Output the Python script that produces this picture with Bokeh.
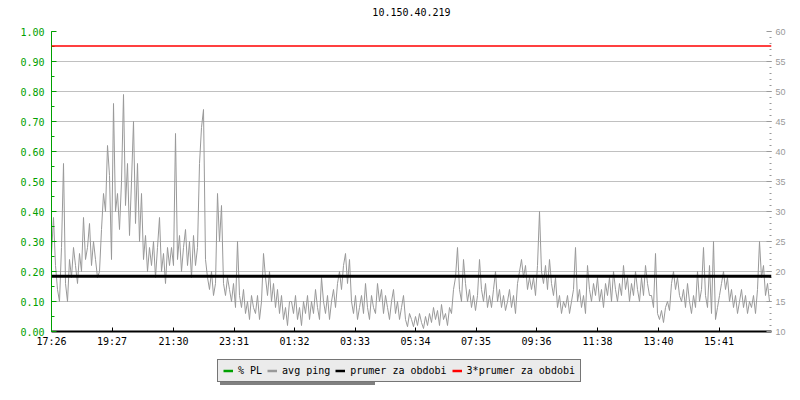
from bokeh.plotting import figure
from bokeh.layouts import column
from bokeh.models import (Range1d, LinearAxis, SingleIntervalTicker, FixedTicker,
                          NumeralTickFormatter, Span, Legend, LegendItem, Title)
from bokeh.embed import file_html
from bokeh.resources import INLINE

# ---------------- data ----------------
title_text = "10.150.40.219"
tick_minutes = [0, 121, 244, 365, 486, 607, 728, 849, 970, 1092, 1214, 1335]
tick_labels = ["17:26", "19:27", "21:30", "23:31", "01:32", "03:33",
               "05:34", "07:35", "09:36", "11:38", "13:40", "15:41"]
sample_step_min = 4          # minutes between samples
window_minutes = 1440        # 24 h shown

avg_ping = [
    23, 29, 21, 17, 15, 24, 38, 18, 15, 22, 19, 24, 21, 18, 23, 20, 29, 22, 24, 28,
    21, 25, 22, 19, 20, 27, 33, 30, 41, 36, 22, 48, 30, 33, 27, 35, 49.5, 31, 38, 26,
    35, 45, 28, 38, 25, 33, 22, 26, 20, 24, 21, 25, 19, 24, 29, 20, 23, 18, 24, 21,
    24, 21, 43, 22, 26, 20, 24, 27, 21, 25, 19, 26, 21, 24, 38, 44, 47, 22, 19, 17,
    20, 16, 18, 33, 25, 31, 18, 16, 19, 17, 15, 18, 14, 25, 16, 14, 17, 13, 15, 12,
    16, 14, 13, 16, 12, 15, 23, 19, 16, 20, 15, 18, 14, 17, 13, 16, 12, 14, 11, 15,
    15, 13, 16, 12, 14, 11, 15, 13, 16, 12, 15, 13, 17, 14, 12, 19, 15, 13, 16, 12,
    15, 17, 14, 18, 20, 17, 21, 23, 18, 22, 15, 13, 16, 12, 14, 16, 13, 18, 14, 12,
    16, 14, 13, 18, 15, 17, 13, 16, 14, 12, 15, 17, 13, 15, 12, 14, 16, 12, 10.8, 13,
    12, 10.8, 12.5, 11, 13, 11.5, 10.5, 12.5, 11, 13, 11.5, 14, 12, 13.5, 11, 14.5, 12, 13, 11, 14,
    13, 17, 19, 24, 17, 15, 22, 18, 15, 17, 14, 16, 13.5, 16, 22, 17, 15, 18, 14, 16,
    14, 17, 20, 15, 17, 14, 16, 13.5, 15, 17, 14, 16, 13, 18, 20, 22, 19, 21, 17, 19,
    17, 19, 16, 21, 30, 20, 18, 21, 17, 22, 18, 16, 19, 14, 16, 13, 15, 14, 16, 13,
    15, 17, 24, 15, 17, 14, 16, 13, 21, 17, 15, 18, 16, 19, 15, 17, 14, 18, 16, 19,
    15, 20, 17, 15, 18, 16, 21, 17, 19, 15, 18, 16, 20, 17, 15, 19, 16, 21, 18, 16,
    16, 14, 23, 13, 12, 13.5, 11.5, 14, 15, 13.5, 18, 20, 17, 19, 16, 15, 17, 14, 18, 15,
    13, 16, 14, 20, 15, 17, 24, 16, 14, 21, 13, 25, 12, 14, 16, 18, 20, 17, 19, 15,
    17, 14, 16, 13, 15, 17, 14, 16, 13, 15, 14, 16, 13, 17, 25, 19, 21, 16, 18, 15,
]
prumer = 19.2                # average ping over the period (ms)
pl_range = (0.0, 1.0)        # % PL axis
ping_range = (10, 60)        # ms axis

series_labels = ["% PL", "avg ping", "prumer za obdobi", "3*prumer za obdobi"]
series_colors = ["#00a000", "#999999", "#000000", "#ff0000"]

times = [i * sample_step_min for i in range(len(avg_ping))]

GREEN = "#00a000"
MONO = "DejaVu Sans Mono"

p = figure(width=800, height=356, output_backend="svg", toolbar_location=None,
           x_range=Range1d(0, window_minutes), y_range=Range1d(*pl_range),
           min_border_left=51, min_border_right=29, min_border_top=31,
           min_border_bottom=25)
p.extra_y_ranges = {"ping": Range1d(*ping_range)}
p.outline_line_color = None
p.background_fill_color = "white"
p.border_fill_color = "white"

# spacer title (closest to frame) pushes the real title upward
p.add_layout(Title(text=" ", text_font=MONO, text_font_size="10px", standoff=0), "above")

# title
p.title.text = title_text
p.title.align = "center"
p.title.text_font = MONO
p.title.text_font_size = "10px"
p.title.text_font_style = "normal"
p.title.text_color = "black"
p.title.standoff = 6

# left axis
ya = p.yaxis[0]
yt = SingleIntervalTicker(interval=0.1, num_minor_ticks=2)
ya.ticker = yt
ya.formatter = NumeralTickFormatter(format="0.00")
ya.axis_line_color = GREEN
ya.major_tick_line_color = GREEN
ya.minor_tick_line_color = GREEN
ya.major_tick_in = 5
ya.major_tick_out = 0
ya.minor_tick_in = 3
ya.minor_tick_out = 0
ya.major_label_text_color = GREEN
ya.major_label_text_font = MONO
ya.major_label_text_font_size = "10px"
ya.major_label_standoff = 7

p.ygrid[0].ticker = yt
p.ygrid[0].grid_line_color = "#c0c0c0"
p.xgrid[0].grid_line_color = None

# bottom axis
xa = p.xaxis[0]
xa.ticker = FixedTicker(ticks=tick_minutes)
xa.major_label_overrides = {m: l for m, l in zip(tick_minutes, tick_labels)}
xa.axis_line_color = "black"
xa.axis_line_width = 2
xa.major_tick_line_color = "black"
xa.major_tick_in = 4
xa.major_tick_out = 0
xa.minor_tick_line_color = None
xa.major_label_text_font = MONO
xa.major_label_text_font_size = "10px"
xa.major_label_text_color = "black"
xa.major_label_standoff = 4

# right axis
ra = LinearAxis(y_range_name="ping",
                ticker=SingleIntervalTicker(interval=5, num_minor_ticks=5))
ra.axis_line_color = None
ra.major_tick_line_color = "#999999"
ra.minor_tick_line_color = "#999999"
ra.major_tick_in = 5
ra.major_tick_out = 0
ra.minor_tick_in = 2
ra.minor_tick_out = 0
ra.major_label_text_color = "#999999"
ra.major_label_text_font = "Liberation Sans"
ra.major_label_text_font_size = "9px"
ra.major_label_standoff = 4
p.add_layout(ra, "right")

# data
p.line(times, avg_ping, y_range_name="ping", line_color=series_colors[1], line_width=1)
p.add_layout(Span(location=prumer, dimension="width", y_range_name="ping",
                  line_color=series_colors[2], line_width=3))
p.add_layout(Span(location=3 * prumer, dimension="width", y_range_name="ping",
                  line_color=series_colors[3], line_width=1.5))

# ---------------- legend strip (with shadow) ----------------
pl = figure(width=800, height=40, output_backend="svg", toolbar_location=None,
            x_range=Range1d(0, 1), y_range=Range1d(0, 1),
            x_axis_type=None, y_axis_type=None, min_border=0)
pl.outline_line_color = None
pl.grid.grid_line_color = None
pl.background_fill_color = "white"
pl.border_fill_color = "white"

NAN = float("nan")
leg_kw = dict(orientation="horizontal", glyph_width=10, glyph_height=11,
              label_standoff=5, spacing=5, padding=5, margin=0,
              label_text_font=MONO, label_text_font_size="10px",
              label_height=11)
shadow_items = []
items = []
for lab, col in zip(series_labels, series_colors):
    s = pl.line([NAN], [NAN], line_alpha=0)
    # monospace blanks of equal length give the shadow box the same size
    shadow_items.append(LegendItem(label=" " * len(lab), renderers=[s]))
    r = pl.line([NAN], [NAN], line_color=col, line_width=2.5)
    items.append(LegendItem(label=lab, renderers=[r]))

# the column aligns frames, so the strip's frame starts at x=51
shadow = Legend(items=shadow_items, location=(169, 11),
                background_fill_color="#808080", background_fill_alpha=1,
                border_line_color=None, label_text_color="#808080", **leg_kw)
legend = Legend(items=items, location=(166, 14),
                background_fill_color="#ebebeb", background_fill_alpha=1,
                border_line_color="black", border_line_width=1,
                label_text_color="black", **leg_kw)
pl.add_layout(shadow)
pl.add_layout(legend)

open("out.html", "w").write(file_html(column(p, pl, spacing=0), INLINE))
